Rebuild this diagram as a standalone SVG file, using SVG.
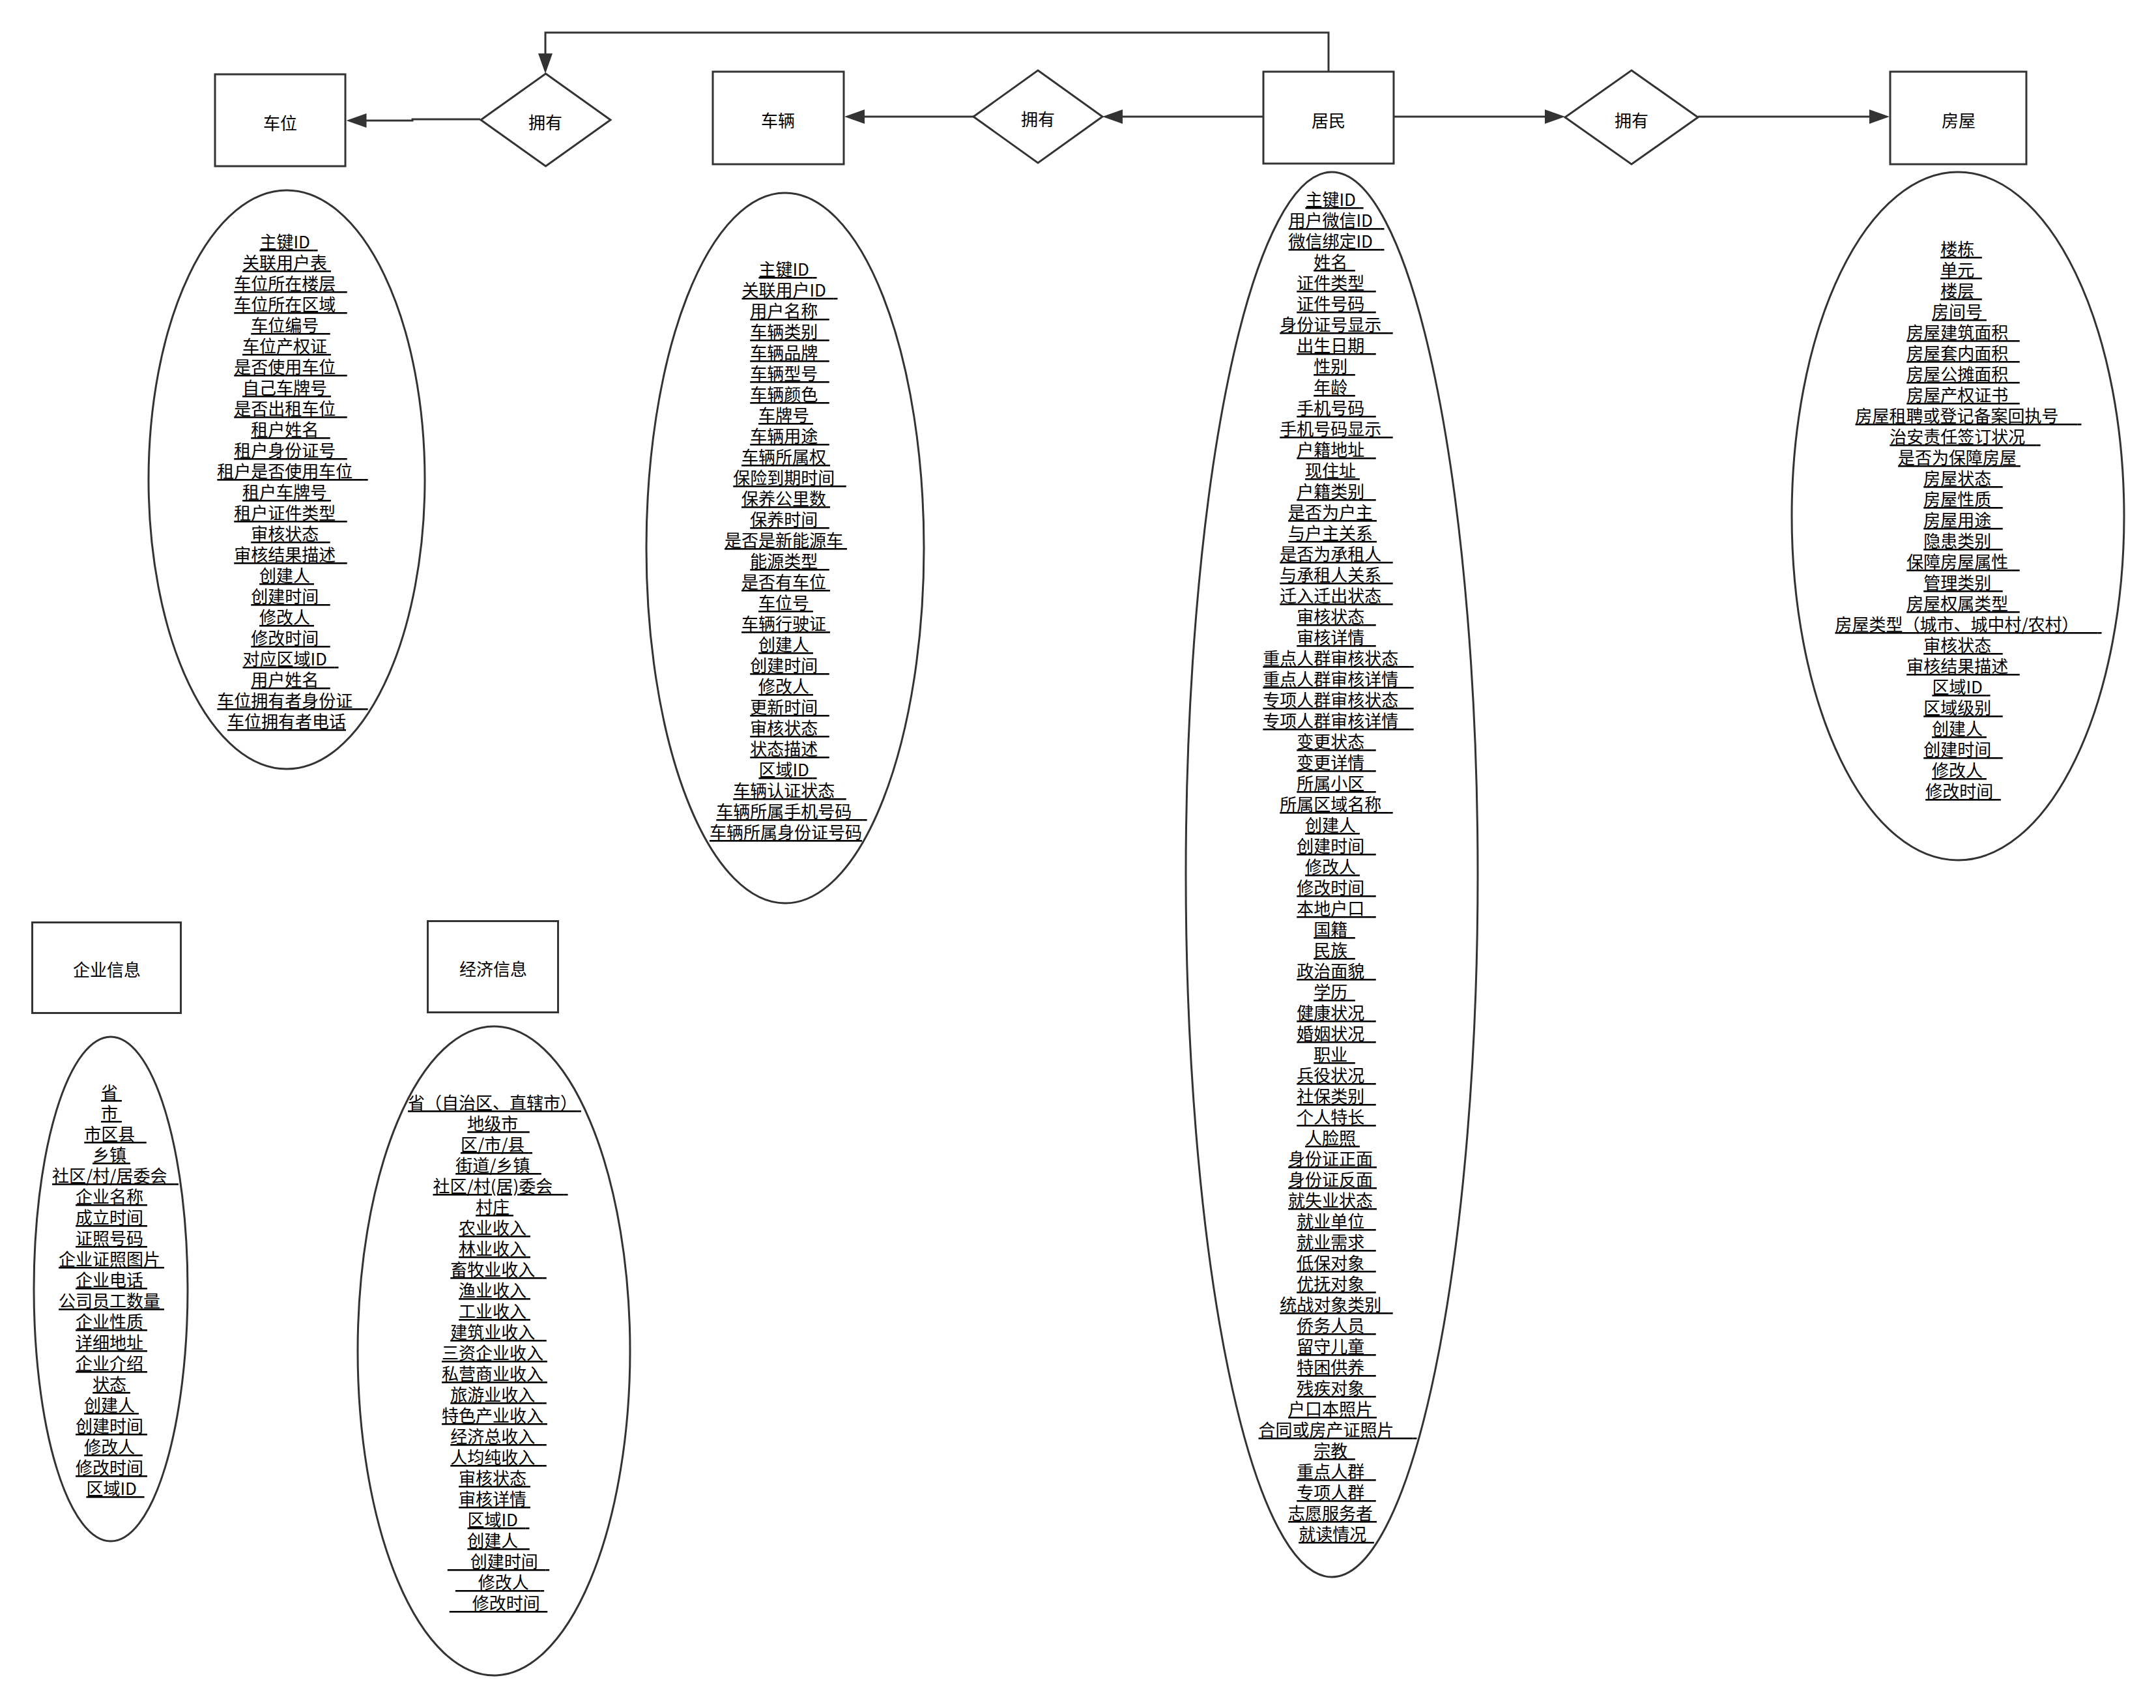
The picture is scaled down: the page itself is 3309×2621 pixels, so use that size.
<svg xmlns="http://www.w3.org/2000/svg" width="3309" height="2621" viewBox="0 0 3309 2621">
<style>
.shape{fill:#fff;stroke:#333;stroke-width:3}
.conn{fill:none;stroke:#333;stroke-width:3}
.lbl{font-family:"Noto Sans CJK SC","Noto Sans CJK TC",sans-serif;font-size:26px;fill:#000;text-anchor:middle}
.attr{font-family:"Noto Sans CJK SC","Noto Sans CJK TC",sans-serif;font-size:26px;fill:#000;text-anchor:middle;text-decoration:underline;text-decoration-thickness:2px}
</style>
<defs>
<marker id="arr" markerUnits="userSpaceOnUse" markerWidth="32" markerHeight="24" refX="26" refY="12" orient="auto">
<path d="M0,1 L31,12 L0,23 Z" fill="#333"/>
</marker>
</defs>
<rect width="3309" height="2621" fill="#fff"/>

<g id="connectors">
<path class="conn" d="M737,183 L633,183 L633,185 L536.5,185" marker-end="url(#arr)"/>
<path class="conn" d="M2039,110 L2039,50 L837,50 L837,108" marker-end="url(#arr)"/>
<path class="conn" d="M1938,179 L1697,179" marker-end="url(#arr)"/>
<path class="conn" d="M1494,179 L1301,179" marker-end="url(#arr)"/>
<path class="conn" d="M2140,179 L2397,179" marker-end="url(#arr)"/>
<path class="conn" d="M2606,179 L2895,179" marker-end="url(#arr)"/>
</g>

<g id="chewei">
<rect class="shape" x="330" y="114" width="200" height="141"/>
<text class="lbl" x="430" y="199">车位</text>
</g>
<g id="rel-chewei">
<polygon class="shape" points="837.5,113 937,184 837.5,255 738,184"/>
<text class="lbl" x="837" y="198">拥有</text>
</g>
<g id="cheliang">
<rect class="shape" x="1094" y="110" width="201" height="142"/>
<text class="lbl" x="1194" y="195">车辆</text>
</g>
<g id="rel-cheliang">
<polygon class="shape" points="1593,108 1692,179 1593,250 1494,179"/>
<text class="lbl" x="1593" y="193">拥有</text>
</g>
<g id="jumin">
<rect class="shape" x="1939" y="110" width="200" height="141"/>
<text class="lbl" x="2039" y="195">居民</text>
</g>
<g id="rel-fangwu">
<polygon class="shape" points="2504,108 2606,180 2504,252 2402,180"/>
<text class="lbl" x="2504" y="195">拥有</text>
</g>
<g id="fangwu">
<rect class="shape" x="2901" y="110" width="209" height="142"/>
<text class="lbl" x="3006" y="195">房屋</text>
</g>
<g id="qiye">
<rect class="shape" x="49.5" y="1415.5" width="228" height="139"/>
<text class="lbl" x="164" y="1498">企业信息</text>
</g>
<g id="jingji">
<rect class="shape" x="656.5" y="1413.5" width="200" height="140"/>
<text class="lbl" x="757" y="1497">经济信息</text>
</g>

<g id="chewei-attrs">
<ellipse class="shape" cx="440" cy="736" rx="212" ry="444"/>
<text class="attr" transform="translate(0,2)">
<tspan x="443" y="379">主键ID&#160;</tspan>
<tspan x="440" y="411">关联用户表</tspan>
<tspan x="446" y="443">车位所在楼层&#160;&#160;</tspan>
<tspan x="446" y="475">车位所在区域&#160;&#160;</tspan>
<tspan x="446" y="507">车位编号&#160;&#160;</tspan>
<tspan x="440" y="539">车位产权证</tspan>
<tspan x="446" y="571">是否使用车位&#160;&#160;</tspan>
<tspan x="440" y="603">自己车牌号</tspan>
<tspan x="446" y="635">是否出租车位&#160;&#160;</tspan>
<tspan x="446" y="667">租户姓名&#160;&#160;</tspan>
<tspan x="446" y="699">租户身份证号&#160;&#160;</tspan>
<tspan x="449" y="731">租户是否使用车位&#160;&#160;&#160;</tspan>
<tspan x="440" y="763">租户车牌号</tspan>
<tspan x="446" y="795">租户证件类型&#160;&#160;</tspan>
<tspan x="446" y="827">审核状态&#160;&#160;</tspan>
<tspan x="446" y="859">审核结果描述&#160;&#160;</tspan>
<tspan x="440" y="891">创建人</tspan>
<tspan x="446" y="923">创建时间&#160;&#160;</tspan>
<tspan x="440" y="955">修改人</tspan>
<tspan x="446" y="987">修改时间&#160;&#160;</tspan>
<tspan x="446" y="1019">对应区域ID&#160;&#160;</tspan>
<tspan x="446" y="1051">用户姓名&#160;&#160;</tspan>
<tspan x="449" y="1083">车位拥有者身份证&#160;&#160;&#160;</tspan>
<tspan x="440" y="1115">车位拥有者电话</tspan>
</text>
</g>

<g id="cheliang-attrs">
<ellipse class="shape" cx="1205" cy="841" rx="213" ry="545"/>
<text class="attr" transform="translate(0,2)">
<tspan x="1209" y="421">主键ID&#160;</tspan>
<tspan x="1212" y="453">关联用户ID&#160;&#160;</tspan>
<tspan x="1212" y="485">用户名称&#160;&#160;</tspan>
<tspan x="1212" y="517">车辆类别&#160;&#160;</tspan>
<tspan x="1212" y="549">车辆品牌&#160;&#160;</tspan>
<tspan x="1212" y="581">车辆型号&#160;&#160;</tspan>
<tspan x="1212" y="613">车辆颜色&#160;&#160;</tspan>
<tspan x="1206" y="645">车牌号</tspan>
<tspan x="1212" y="677">车辆用途&#160;&#160;</tspan>
<tspan x="1206" y="709">车辆所属权</tspan>
<tspan x="1212" y="741">保险到期时间&#160;&#160;</tspan>
<tspan x="1206" y="773">保养公里数</tspan>
<tspan x="1212" y="805">保养时间&#160;&#160;</tspan>
<tspan x="1206" y="837">是否是新能源车</tspan>
<tspan x="1212" y="869">能源类型&#160;&#160;</tspan>
<tspan x="1206" y="901">是否有车位</tspan>
<tspan x="1206" y="933">车位号</tspan>
<tspan x="1206" y="965">车辆行驶证</tspan>
<tspan x="1206" y="997">创建人</tspan>
<tspan x="1212" y="1029">创建时间&#160;&#160;</tspan>
<tspan x="1206" y="1061">修改人</tspan>
<tspan x="1212" y="1093">更新时间&#160;&#160;</tspan>
<tspan x="1212" y="1125">审核状态&#160;&#160;</tspan>
<tspan x="1212" y="1157">状态描述&#160;&#160;</tspan>
<tspan x="1209" y="1189">区域ID&#160;</tspan>
<tspan x="1212" y="1221">车辆认证状态&#160;&#160;</tspan>
<tspan x="1215" y="1253">车辆所属手机号码&#160;&#160;&#160;</tspan>
<tspan x="1206" y="1285">车辆所属身份证号码</tspan>
</text>
</g>

<g id="jumin-attrs">
<ellipse class="shape" cx="2044" cy="1342" rx="224" ry="1078"/>
<text class="attr" transform="translate(0,2)">
<tspan x="2048" y="314">主键ID&#160;</tspan>
<tspan x="2051" y="346">用户微信ID&#160;&#160;</tspan>
<tspan x="2051" y="378">微信绑定ID&#160;&#160;</tspan>
<tspan x="2048" y="410">姓名&#160;</tspan>
<tspan x="2051" y="442">证件类型&#160;&#160;</tspan>
<tspan x="2051" y="474">证件号码&#160;&#160;</tspan>
<tspan x="2051" y="506">身份证号显示&#160;&#160;</tspan>
<tspan x="2051" y="538">出生日期&#160;&#160;</tspan>
<tspan x="2048" y="570">性别&#160;</tspan>
<tspan x="2048" y="602">年龄&#160;</tspan>
<tspan x="2051" y="634">手机号码&#160;&#160;</tspan>
<tspan x="2051" y="666">手机号码显示&#160;&#160;</tspan>
<tspan x="2051" y="698">户籍地址&#160;&#160;</tspan>
<tspan x="2045" y="730">现住址</tspan>
<tspan x="2051" y="762">户籍类别&#160;&#160;</tspan>
<tspan x="2045" y="794">是否为户主</tspan>
<tspan x="2045" y="826">与户主关系</tspan>
<tspan x="2051" y="858">是否为承租人&#160;&#160;</tspan>
<tspan x="2051" y="890">与承租人关系&#160;&#160;</tspan>
<tspan x="2051" y="922">迁入迁出状态&#160;&#160;</tspan>
<tspan x="2051" y="954">审核状态&#160;&#160;</tspan>
<tspan x="2051" y="986">审核详情&#160;&#160;</tspan>
<tspan x="2054" y="1018">重点人群审核状态&#160;&#160;&#160;</tspan>
<tspan x="2054" y="1050">重点人群审核详情&#160;&#160;&#160;</tspan>
<tspan x="2054" y="1082">专项人群审核状态&#160;&#160;&#160;</tspan>
<tspan x="2054" y="1114">专项人群审核详情&#160;&#160;&#160;</tspan>
<tspan x="2051" y="1146">变更状态&#160;&#160;</tspan>
<tspan x="2051" y="1178">变更详情&#160;&#160;</tspan>
<tspan x="2051" y="1210">所属小区&#160;&#160;</tspan>
<tspan x="2051" y="1242">所属区域名称&#160;&#160;</tspan>
<tspan x="2045" y="1274">创建人</tspan>
<tspan x="2051" y="1306">创建时间&#160;&#160;</tspan>
<tspan x="2045" y="1338">修改人</tspan>
<tspan x="2051" y="1370">修改时间&#160;&#160;</tspan>
<tspan x="2051" y="1402">本地户口&#160;&#160;</tspan>
<tspan x="2048" y="1434">国籍&#160;</tspan>
<tspan x="2048" y="1466">民族&#160;</tspan>
<tspan x="2051" y="1498">政治面貌&#160;&#160;</tspan>
<tspan x="2048" y="1530">学历&#160;</tspan>
<tspan x="2051" y="1562">健康状况&#160;&#160;</tspan>
<tspan x="2051" y="1594">婚姻状况&#160;&#160;</tspan>
<tspan x="2048" y="1626">职业&#160;</tspan>
<tspan x="2051" y="1658">兵役状况&#160;&#160;</tspan>
<tspan x="2051" y="1690">社保类别&#160;&#160;</tspan>
<tspan x="2051" y="1722">个人特长&#160;&#160;</tspan>
<tspan x="2045" y="1754">人脸照</tspan>
<tspan x="2045" y="1786">身份证正面</tspan>
<tspan x="2045" y="1818">身份证反面</tspan>
<tspan x="2045" y="1850">就失业状态</tspan>
<tspan x="2051" y="1882">就业单位&#160;&#160;</tspan>
<tspan x="2051" y="1914">就业需求&#160;&#160;</tspan>
<tspan x="2051" y="1946">低保对象&#160;&#160;</tspan>
<tspan x="2051" y="1978">优抚对象&#160;&#160;</tspan>
<tspan x="2051" y="2010">统战对象类别&#160;&#160;</tspan>
<tspan x="2051" y="2042">侨务人员&#160;&#160;</tspan>
<tspan x="2051" y="2074">留守儿童&#160;&#160;</tspan>
<tspan x="2051" y="2106">特困供养&#160;&#160;</tspan>
<tspan x="2051" y="2138">残疾对象&#160;&#160;</tspan>
<tspan x="2045" y="2170">户口本照片</tspan>
<tspan x="2053" y="2202">合同或房产证照片&#160;&#160;&#160;&#160;&#160;</tspan>
<tspan x="2048" y="2234">宗教&#160;</tspan>
<tspan x="2051" y="2266">重点人群&#160;&#160;</tspan>
<tspan x="2051" y="2298">专项人群&#160;&#160;</tspan>
<tspan x="2045" y="2330">志愿服务者</tspan>
<tspan x="2051" y="2362">就读情况&#160;&#160;</tspan>
</text>
</g>

<g id="fangwu-attrs">
<ellipse class="shape" cx="3005" cy="792" rx="255" ry="528"/>
<text class="attr" transform="translate(0,2)">
<tspan x="3010" y="390">楼栋&#160;</tspan>
<tspan x="3010" y="422">单元&#160;</tspan>
<tspan x="3010" y="454">楼层&#160;</tspan>
<tspan x="3007" y="486">房间号</tspan>
<tspan x="3013" y="518">房屋建筑面积&#160;&#160;</tspan>
<tspan x="3013" y="550">房屋套内面积&#160;&#160;</tspan>
<tspan x="3013" y="582">房屋公摊面积&#160;&#160;</tspan>
<tspan x="3013" y="614">房屋产权证书&#160;&#160;</tspan>
<tspan x="3021" y="646">房屋租聘或登记备案回执号&#160;&#160;&#160;&#160;&#160;</tspan>
<tspan x="3016" y="678">治安责任签订状况&#160;&#160;&#160;</tspan>
<tspan x="3007" y="710">是否为保障房屋</tspan>
<tspan x="3013" y="742">房屋状态&#160;&#160;</tspan>
<tspan x="3013" y="774">房屋性质&#160;&#160;</tspan>
<tspan x="3013" y="806">房屋用途&#160;&#160;</tspan>
<tspan x="3013" y="838">隐患类别&#160;&#160;</tspan>
<tspan x="3013" y="870">保障房屋属性&#160;&#160;</tspan>
<tspan x="3013" y="902">管理类别&#160;&#160;</tspan>
<tspan x="3013" y="934">房屋权属类型&#160;&#160;</tspan>
<tspan x="3021" y="966">房屋类型（城市、城中村/农村）&#160;&#160;&#160;&#160;&#160;</tspan>
<tspan x="3013" y="998">审核状态&#160;&#160;</tspan>
<tspan x="3013" y="1030">审核结果描述&#160;&#160;</tspan>
<tspan x="3010" y="1062">区域ID&#160;</tspan>
<tspan x="3013" y="1094">区域级别&#160;&#160;</tspan>
<tspan x="3007" y="1126">创建人</tspan>
<tspan x="3013" y="1158">创建时间&#160;&#160;</tspan>
<tspan x="3007" y="1190">修改人</tspan>
<tspan x="3013" y="1222">修改时间&#160;&#160;</tspan>
</text>
</g>

<g id="qiye-attrs">
<ellipse class="shape" cx="170" cy="1978" rx="118" ry="387"/>
<text class="attr" transform="translate(0,2)">
<tspan x="171" y="1684">省</tspan>
<tspan x="171" y="1716">市</tspan>
<tspan x="177" y="1748">市区县&#160;&#160;</tspan>
<tspan x="171" y="1780">乡镇</tspan>
<tspan x="177" y="1812">社区/村/居委会&#160;&#160;</tspan>
<tspan x="171" y="1844">企业名称</tspan>
<tspan x="171" y="1876">成立时间</tspan>
<tspan x="171" y="1908">证照号码</tspan>
<tspan x="171" y="1940">企业证照图片</tspan>
<tspan x="171" y="1972">企业电话</tspan>
<tspan x="171" y="2004">公司员工数量</tspan>
<tspan x="171" y="2036">企业性质</tspan>
<tspan x="171" y="2068">详细地址</tspan>
<tspan x="171" y="2100">企业介绍</tspan>
<tspan x="171" y="2132">状态</tspan>
<tspan x="171" y="2164">创建人</tspan>
<tspan x="171" y="2196">创建时间</tspan>
<tspan x="174" y="2228">修改人&#160;</tspan>
<tspan x="171" y="2260">修改时间</tspan>
<tspan x="177" y="2292">区域ID&#160;&#160;</tspan>
</text>
</g>

<g id="jingji-attrs">
<ellipse class="shape" cx="758" cy="2073" rx="209" ry="498"/>
<text class="attr" transform="translate(0,2)">
<tspan x="759" y="1700">省（自治区、直辖市）</tspan>
<tspan x="765" y="1732">地级市&#160;&#160;</tspan>
<tspan x="762" y="1764">区/市/县&#160;</tspan>
<tspan x="765" y="1796">街道/乡镇&#160;&#160;</tspan>
<tspan x="768" y="1828">社区/村(居)委会&#160;&#160;&#160;</tspan>
<tspan x="759" y="1860">村庄</tspan>
<tspan x="759" y="1892">农业收入</tspan>
<tspan x="759" y="1924">林业收入</tspan>
<tspan x="765" y="1956">畜牧业收入&#160;&#160;</tspan>
<tspan x="759" y="1988">渔业收入</tspan>
<tspan x="759" y="2020">工业收入</tspan>
<tspan x="765" y="2052">建筑业收入&#160;&#160;</tspan>
<tspan x="759" y="2084">三资企业收入</tspan>
<tspan x="759" y="2116">私营商业收入</tspan>
<tspan x="765" y="2148">旅游业收入&#160;&#160;</tspan>
<tspan x="759" y="2180">特色产业收入</tspan>
<tspan x="765" y="2212">经济总收入&#160;&#160;</tspan>
<tspan x="765" y="2244">人均纯收入&#160;&#160;</tspan>
<tspan x="759" y="2276">审核状态</tspan>
<tspan x="759" y="2308">审核详情</tspan>
<tspan x="765" y="2340">区域ID&#160;&#160;</tspan>
<tspan x="765" y="2372">创建人&#160;&#160;</tspan>
<tspan x="765" y="2404">&#160;&#160;&#160;&#160;&#160;&#160;创建时间&#160;&#160;</tspan>
<tspan x="767" y="2436">&#160;&#160;&#160;&#160;&#160;&#160;修改人&#160;&#160;&#160;</tspan>
<tspan x="765" y="2468">&#160;&#160;&#160;&#160;&#160;&#160;修改时间&#160;&#160;</tspan>
</text>
</g>
</svg>
